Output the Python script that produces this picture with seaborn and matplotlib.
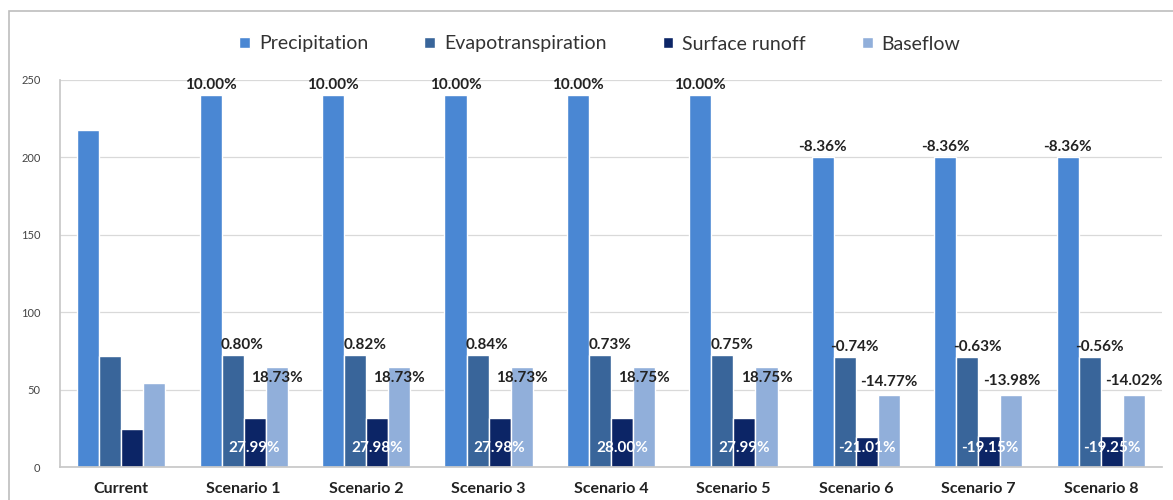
import matplotlib
matplotlib.use("Agg")
import matplotlib.pyplot as plt
import seaborn as sns
import pandas as pd
from matplotlib.patches import Rectangle

categories = ["Current", "Scenario 1", "Scenario 2", "Scenario 3", "Scenario 4",
              "Scenario 5", "Scenario 6", "Scenario 7", "Scenario 8"]
series = ["Precipitation", "Evapotranspiration", "Surface runoff", "Baseflow"]

precipitation = [218, 240, 240, 240, 240, 240, 200, 200, 200]
evapotranspiration = [71.7, 72.3, 72.3, 72.3, 72.2, 72.2, 71.2, 71.2, 71.3]
surface_runoff = [24.5, 31.4, 31.4, 31.4, 31.4, 31.4, 19.4, 19.8, 19.8]
baseflow = [54.3, 64.5, 64.5, 64.5, 64.5, 64.5, 46.3, 46.7, 46.7]

precip_pct = ["", "10.00%", "10.00%", "10.00%", "10.00%", "10.00%", "-8.36%", "-8.36%", "-8.36%"]
et_pct = ["", "0.80%", "0.82%", "0.84%", "0.73%", "0.75%", "-0.74%", "-0.63%", "-0.56%"]
sr_pct = ["", "27.99%", "27.98%", "27.98%", "28.00%", "27.99%", "-21.01%", "-19.15%", "-19.25%"]
bf_pct = ["", "18.73%", "18.73%", "18.73%", "18.75%", "18.75%", "-14.77%", "-13.98%", "-14.02%"]

yticks = [0, 50, 100, 150, 200, 250]

colors = ["#4a87d3", "#39659a", "#0c2566", "#91afda"]

values = [precipitation, evapotranspiration, surface_runoff, baseflow]
rows = []
for s, vals in zip(series, values):
    for c, v in zip(categories, vals):
        rows.append({"Scenario": c, "Component": s, "Value": v})
df = pd.DataFrame(rows)

sns.set_theme(style="white")
plt.rcParams["font.family"] = ["Lato", "DejaVu Sans"]

fig = plt.figure(figsize=(11.73, 5.0), dpi=100)
ax = fig.add_axes([60 / 1173, 1 - 467 / 500, (1162 - 60) / 1173, (467 - 80) / 500])

sns.barplot(data=df, x="Scenario", y="Value", hue="Component", order=categories,
            hue_order=series, palette=colors, width=0.72, gap=0, saturation=1,
            errorbar=None, ax=ax, legend=True)

ax.set_xlim(-0.5, len(categories) - 0.5)
ax.set_ylim(0, 250)
ax.set_yticks(yticks)
ax.set_yticklabels([str(t) for t in yticks], fontsize=8, color="#444444")
ax.set_xlabel("")
ax.set_ylabel("")
ax.tick_params(axis="x", length=0, pad=11)
for lab in ax.get_xticklabels():
    lab.set_fontweight("bold")
    lab.set_fontsize(11.5)
    lab.set_color("#222222")
ax.tick_params(axis="y", length=0, pad=14)
ax.grid(axis="y", color="#d9d9d9", linewidth=0.9)
ax.set_axisbelow(True)
for side in ["top", "right"]:
    ax.spines[side].set_visible(False)
ax.spines["left"].set_color("#c8c8c8")
ax.spines["bottom"].set_color("#c8c8c8")

# category boundary tick marks
ax.set_xticks([i + 0.5 for i in range(len(categories) - 1)], minor=True)
ax.tick_params(axis="x", which="minor", length=5, color="#b0b0b0", width=1, direction="out")

fs = 11
labels = [precip_pct, et_pct, sr_pct, bf_pct]
for k, (cont, labs) in enumerate(zip(ax.containers, labels)):
    for bar, txt in zip(cont, labs):
        if not txt:
            continue
        xc = bar.get_x() + bar.get_width() / 2
        h = bar.get_height()
        if k == 0:
            ax.text(xc, h + 6.5, txt, ha="center", va="center", fontsize=fs,
                    fontweight="bold", color="#222222")
        elif k == 1:
            ax.text(xc + 0.08, h + 6.3, txt, ha="center", va="center", fontsize=fs,
                    fontweight="bold", color="#222222")
        elif k == 2:
            ax.text(xc, 12, txt, ha="center", va="center", fontsize=fs,
                    fontweight="bold", color="white")
        else:
            y = h - 7 if h > 55 else h + 8.7
            ax.text(xc, y, txt, ha="center", va="center", fontsize=fs,
                    fontweight="bold", color="#222222")

leg = ax.legend(loc="center", ncol=4, frameon=False, fontsize=14, handlelength=0.55,
                handleheight=0.55, handletextpad=0.45, columnspacing=2.9)
leg.set_bbox_to_anchor((0.49, (467 - 44) / 387), transform=ax.transAxes)
for t in leg.get_texts():
    t.set_color("#333333")

# outer frame
fig.patches.append(Rectangle((9 / 1173, -0.05), 1.1, 1 - 11 / 500 + 0.05, transform=fig.transFigure,
                             fill=False, edgecolor="#bdbdbd", linewidth=1.2))

fig.savefig("out.png", dpi=100)
